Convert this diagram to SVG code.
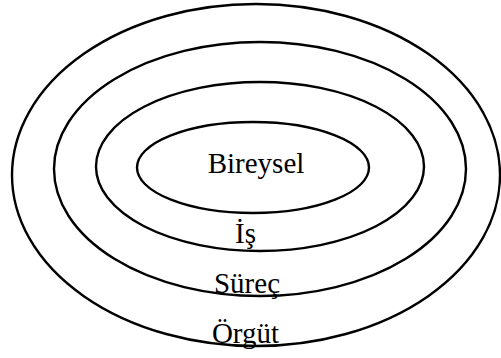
<svg xmlns="http://www.w3.org/2000/svg" width="501" height="358" viewBox="0 0 501 358">
<style>
.ring{fill:none;stroke:#000;stroke-width:2.4}
text{font-family:'Liberation Serif','Times New Roman','DejaVu Serif',serif;font-size:29px;fill:#000;text-anchor:middle}
</style>
<rect width="501" height="358" fill="#fff"/>
<g id="orgut">
<ellipse class="ring" cx="256" cy="175" rx="244" ry="171"/>
<text x="245.5" y="343">Örgüt</text>
</g>
<g id="surec">
<ellipse class="ring" cx="260" cy="169" rx="206" ry="127"/>
<text x="247" y="293">Süreç</text>
</g>
<g id="is">
<ellipse class="ring" cx="260" cy="166.5" rx="164" ry="84.5"/>
<text x="245.5" y="243">İş</text>
</g>
<g id="bireysel">
<ellipse class="ring" cx="253" cy="167.5" rx="116" ry="45.5"/>
<text x="256" y="173">Bireysel</text>
</g>
</svg>
